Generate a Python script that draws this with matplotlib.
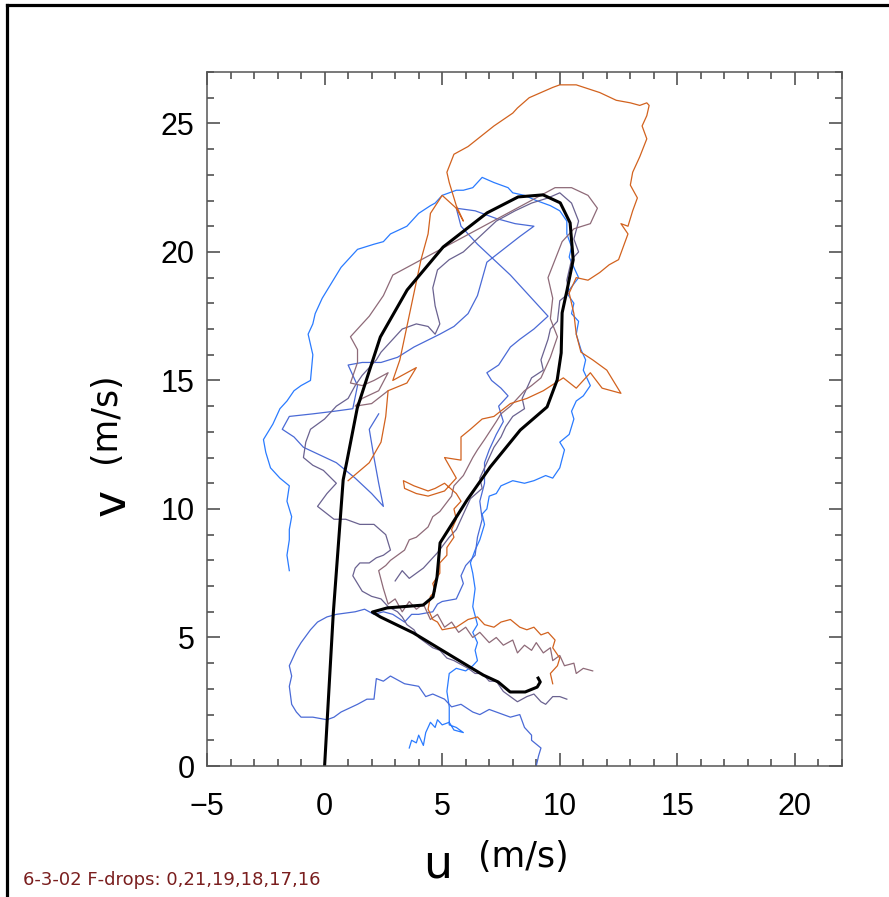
import matplotlib.pyplot as plt
from matplotlib.lines import Line2D
from matplotlib.ticker import MultipleLocator

# hodograph points (u, v) in m/s for each drop
# drop 0 (black, smooth profile)
drop0 = [(0.0, 0.0), (0.37, 5.95), (0.79, 11.13), (0.96, 11.91), (1.39, 13.93), (2.37, 16.69),
         (3.51, 18.52), (5.04, 20.19), (6.91, 21.52), (8.23, 22.14), (9.29, 22.22), (10.02, 21.91),
         (10.44, 21.13), (10.57, 19.69), (10.31, 18.52), (10.10, 17.63), (10.06, 16.07),
         (9.89, 15.02), (9.46, 13.97), (8.32, 13.07), (7.04, 11.63), (6.06, 10.35), (4.91, 8.68),
         (4.78, 7.35), (4.61, 6.58), (4.19, 6.26), (2.66, 6.15), (2.03, 5.99), (2.37, 5.80),
         (3.77, 5.18), (5.47, 4.24), (6.74, 3.54), (7.38, 3.27), (7.89, 2.88), (8.53, 2.88),
         (9.04, 3.07), (9.17, 3.27), (9.08, 3.42)]

# drop 21 (bright blue)
drop21 = [(3.6, 0.7), (3.7, 1.0), (3.9, 0.9), (4.0, 1.2), (4.2, 0.8), (4.3, 1.3), (4.5, 1.7),
          (4.7, 1.5), (4.8, 1.8), (5.0, 1.6), (5.3, 1.7), (5.5, 1.4), (5.9, 1.3), (5.6, 1.5),
          (5.3, 1.6), (5.3, 2.3), (5.2, 2.9), (5.3, 3.6), (5.6, 3.8), (6.0, 3.7), (6.3, 3.9),
          (6.5, 4.1), (6.4, 4.5), (6.5, 4.8), (6.3, 5.2), (6.5, 5.5), (6.3, 6.2), (6.4, 6.9),
          (6.3, 7.5), (6.2, 7.9), (6.4, 8.4), (6.6, 8.8), (6.8, 9.4), (6.7, 9.8), (6.9, 10.0),
          (7.0, 10.5), (7.3, 10.6), (7.5, 10.9), (8.0, 11.1), (8.5, 11.0), (8.9, 11.1), (9.4, 11.3),
          (9.7, 11.2), (10.0, 11.6), (10.2, 12.3), (10.0, 12.6), (10.4, 12.9), (10.6, 13.5),
          (10.5, 13.8), (10.7, 14.2), (11.0, 14.4), (11.3, 14.8), (11.0, 15.4), (11.1, 15.8),
          (10.9, 16.2), (10.7, 16.8), (10.8, 17.3), (10.5, 17.6), (10.6, 18.0), (10.3, 18.4),
          (10.8, 19.0), (10.6, 19.4), (10.4, 19.8), (10.5, 20.2), (10.3, 20.7), (10.3, 21.2),
          (10.0, 21.6), (9.6, 21.8), (9.0, 22.0), (8.5, 22.2), (8.0, 22.3), (7.8, 22.5), (7.2, 22.7),
          (6.7, 22.9), (6.5, 22.7), (6.3, 22.5), (5.9, 22.4), (5.6, 22.4), (5.0, 22.2), (4.7, 21.9),
          (4.5, 21.8), (4.0, 21.5), (3.7, 21.2), (3.5, 21.0), (2.8, 20.7), (2.5, 20.4), (2.1, 20.3),
          (1.4, 20.1), (0.9, 19.6), (0.7, 19.4), (0.5, 19.1), (0.1, 18.5), (-0.1, 18.2), (-0.4, 17.6),
          (-0.5, 17.2), (-0.7, 16.8), (-0.5, 16.0), (-0.6, 15.0), (-0.8, 14.9), (-1.0, 14.8),
          (-1.3, 14.6), (-1.6, 14.2), (-1.9, 13.9), (-2.2, 13.3), (-2.4, 13.0), (-2.6, 12.7),
          (-2.5, 12.2), (-2.3, 11.6), (-1.9, 11.2), (-1.5, 10.9), (-1.6, 10.3), (-1.4, 9.7),
          (-1.5, 9.2), (-1.5, 8.8), (-1.6, 8.2), (-1.5, 7.6)]

# drop 19 (medium blue)
drop19 = [(9.0, 0.0), (9.1, 0.4), (9.2, 0.7), (8.8, 1.0), (8.8, 1.2), (8.5, 1.5), (8.3, 2.0),
          (7.9, 1.9), (7.6, 2.0), (7.0, 2.2), (6.6, 2.0), (6.3, 2.1), (5.8, 2.4), (5.4, 2.3),
          (5.1, 2.6), (4.6, 2.8), (4.3, 2.7), (4.0, 3.1), (3.4, 3.2), (2.8, 3.5), (2.5, 3.3),
          (2.2, 3.4), (2.1, 2.6), (1.8, 2.6), (1.4, 2.4), (0.7, 2.1), (0.4, 1.9), (0.1, 1.8),
          (-0.5, 1.9), (-1.0, 1.9), (-1.2, 2.1), (-1.4, 2.4), (-1.5, 3.1), (-1.4, 3.5), (-1.5, 3.9),
          (-1.2, 4.5), (-1.0, 4.8), (-0.6, 5.3), (-0.3, 5.6), (0.1, 5.8), (0.5, 5.9), (1.3, 6.0),
          (1.7, 6.1), (2.1, 5.9), (2.5, 6.0), (2.9, 5.9), (3.4, 5.6), (3.7, 5.9), (4.0, 5.9),
          (4.6, 6.0), (4.8, 6.3), (5.0, 6.4), (5.6, 6.5), (5.9, 7.1), (5.8, 7.4), (6.0, 7.8),
          (6.4, 8.2), (6.5, 8.9), (6.7, 9.6), (6.6, 10.3), (6.8, 11.0), (6.8, 11.8), (7.0, 12.3),
          (7.3, 12.9), (7.6, 13.4), (7.4, 14.0), (7.8, 14.4), (7.5, 14.7), (7.1, 15.0), (6.9, 15.3),
          (7.4, 15.6), (7.9, 16.3), (8.3, 16.6), (8.9, 17.0), (9.5, 17.5), (9.1, 17.9), (8.6, 18.4),
          (7.9, 19.1), (7.2, 19.7), (6.5, 20.3), (5.8, 21.0), (5.6, 21.7), (6.4, 21.6), (7.3, 21.3),
          (8.1, 21.1), (8.9, 21.0), (8.3, 20.6), (7.6, 20.1), (6.9, 19.6), (6.5, 18.3), (6.1, 17.6),
          (5.5, 17.1), (4.9, 16.8), (3.8, 16.3), (3.1, 15.9), (2.4, 15.7), (1.6, 15.7), (1.0, 15.6),
          (1.4, 14.8), (1.2, 13.9), (0.4, 13.8), (-0.5, 13.7), (-1.5, 13.6), (-1.8, 13.1),
          (-1.3, 12.8), (-0.9, 12.4), (-0.2, 12.1), (0.5, 11.8), (1.3, 11.2), (2.0, 10.6),
          (2.5, 10.1), (2.3, 11.0), (2.1, 12.0), (1.9, 13.1), (2.3, 13.7)]

# drop 18 (slate purple)
drop18 = [(10.3, 2.6), (10.0, 2.7), (9.7, 2.7), (9.4, 2.4), (9.2, 2.5), (8.9, 2.8), (8.6, 2.7),
          (8.2, 2.5), (7.9, 2.7), (7.6, 2.9), (7.3, 3.3), (7.0, 3.3), (6.7, 3.6), (6.4, 3.6),
          (6.1, 3.8), (5.9, 3.9), (5.5, 4.1), (5.2, 4.2), (4.9, 4.5), (4.6, 4.6), (4.3, 4.8),
          (4.0, 5.0), (3.8, 5.3), (3.5, 5.5), (3.3, 5.8), (3.1, 6.0), (2.7, 6.2), (2.4, 6.5),
          (2.0, 6.6), (1.6, 6.8), (1.4, 7.1), (1.2, 7.4), (1.3, 7.7), (1.5, 7.9), (1.9, 7.9),
          (2.2, 8.1), (2.5, 8.2), (2.8, 8.4), (2.7, 8.7), (2.6, 9.0), (2.1, 9.4), (1.5, 9.4),
          (0.9, 9.6), (0.4, 9.6), (-0.3, 10.1), (0.1, 10.6), (0.5, 11.0), (-0.05, 11.5), (-0.5, 11.7),
          (-0.9, 12.0), (-0.8, 12.6), (-0.6, 13.1), (0.0, 13.5), (0.5, 14.0), (1.0, 14.3), (1.3, 14.8),
          (1.6, 15.2), (2.2, 15.8), (2.4, 16.1), (2.9, 16.6), (3.3, 17.0), (3.9, 17.2), (4.4, 17.1),
          (4.7, 16.8), (4.9, 17.2), (4.7, 17.9), (4.6, 18.6), (4.8, 19.3), (5.3, 19.7), (5.9, 20.0),
          (6.6, 20.6), (7.3, 21.2), (8.1, 21.6), (8.8, 21.9), (9.5, 22.1), (10.0, 22.3), (10.5, 21.9),
          (10.8, 21.2), (10.6, 20.5), (10.8, 20.0), (10.5, 19.7), (10.3, 18.9), (10.4, 18.4),
          (10.0, 18.1), (9.9, 17.3), (9.6, 17.0), (9.5, 16.6), (9.2, 15.8), (9.3, 15.4), (8.8, 15.1),
          (8.4, 14.3), (8.5, 13.9), (8.0, 13.6), (7.7, 13.2), (7.5, 12.8), (7.2, 12.4), (7.0, 12.0),
          (6.6, 11.2), (6.7, 10.8), (6.2, 10.4), (5.8, 9.6), (5.6, 9.2), (5.3, 8.9), (4.8, 8.3),
          (4.5, 8.0), (4.2, 7.7), (3.6, 7.3), (3.3, 7.6), (3.0, 7.2)]

# drop 17 (mauve brown)
drop17 = [(11.4, 3.7), (11.0, 3.8), (10.7, 3.6), (10.6, 4.0), (10.2, 3.9), (10.0, 4.3), (9.7, 4.1),
          (9.6, 4.6), (9.3, 4.4), (9.0, 4.8), (8.8, 4.5), (8.5, 4.7), (8.2, 4.4), (8.0, 4.9),
          (7.6, 4.7), (7.3, 5.0), (7.0, 4.8), (6.6, 5.2), (6.3, 5.0), (6.0, 5.4), (5.7, 5.2),
          (5.4, 5.6), (5.1, 5.4), (4.8, 5.9), (4.5, 5.7), (4.2, 6.3), (3.9, 6.1), (3.6, 6.4),
          (3.3, 6.0), (3.0, 6.5), (2.7, 6.3), (2.5, 6.9), (2.3, 7.6), (2.6, 7.8), (2.8, 8.0),
          (3.4, 8.4), (3.6, 8.8), (3.9, 8.9), (4.4, 9.3), (4.6, 9.7), (4.9, 9.9), (5.4, 10.5),
          (5.5, 10.9), (5.9, 11.3), (6.3, 12.0), (6.5, 12.3), (6.8, 12.7), (7.3, 13.4), (7.5, 13.7),
          (7.9, 14.0), (8.5, 14.6), (8.8, 14.8), (9.2, 15.1), (9.6, 15.9), (9.9, 16.7), (9.6, 17.4),
          (9.7, 18.2), (9.5, 19.0), (9.8, 19.7), (10.1, 20.4), (10.6, 20.9), (11.3, 21.1), (11.6, 21.7),
          (11.2, 22.2), (10.5, 22.5), (9.8, 22.5), (2.9, 19.1), (2.5, 18.3), (1.9, 17.5), (1.1, 16.7),
          (1.4, 16.2), (1.4, 15.7), (1.1, 14.9), (1.6, 14.8), (2.1, 15.0), (2.7, 15.3), (2.3, 14.6),
          (1.6, 14.3), (1.3, 14.0), (2.0, 14.1), (2.7, 14.6)]

# drop 16 (orange)
drop16 = [(9.7, 3.2), (9.6, 3.6), (9.9, 3.9), (10.0, 4.2), (9.7, 4.6), (9.8, 4.9), (9.5, 5.2),
          (9.2, 5.1), (8.9, 5.4), (8.6, 5.3), (8.3, 5.4), (7.9, 5.7), (7.5, 5.6), (7.2, 5.4),
          (6.8, 5.5), (6.5, 5.8), (6.1, 5.7), (5.6, 5.4), (5.0, 5.3), (4.8, 5.6), (4.6, 5.7),
          (4.4, 6.1), (4.5, 6.6), (4.7, 6.8), (4.6, 7.1), (4.9, 7.5), (4.9, 7.9), (5.2, 8.2),
          (5.2, 8.5), (5.5, 8.9), (5.4, 9.2), (5.6, 9.6), (5.5, 10.0), (5.8, 10.3), (5.6, 10.6),
          (5.1, 11.0), (4.7, 10.8), (4.4, 10.7), (3.8, 10.9), (3.35, 11.1), (3.4, 10.8), (3.9, 10.6),
          (4.4, 10.5), (5.1, 10.7), (5.6, 11.2), (5.1, 12.0), (5.8, 11.9), (5.8, 12.8), (6.2, 13.1),
          (6.7, 13.5), (7.2, 13.6), (7.9, 14.1), (8.6, 14.3), (9.3, 14.6), (10.15, 15.1), (10.7, 14.7),
          (11.3, 15.3), (11.8, 14.7), (12.6, 14.5), (12.0, 15.4), (11.4, 15.8), (10.9, 16.1),
          (10.7, 16.8), (10.6, 17.6), (10.4, 18.4), (10.7, 19.0), (11.2, 18.9), (11.7, 19.2),
          (12.1, 19.5), (12.5, 19.7), (12.7, 20.2), (12.9, 20.7), (12.6, 21.1), (12.9, 21.0),
          (13.1, 21.6), (13.3, 22.1), (13.0, 22.6), (13.1, 23.1), (13.4, 23.7), (13.7, 24.4),
          (13.5, 24.9), (13.7, 25.3), (13.8, 25.7), (13.7, 25.8), (13.4, 25.7), (13.0, 25.8),
          (12.4, 25.9), (11.7, 26.2), (10.7, 26.5), (10.0, 26.5), (9.7, 26.4), (8.7, 26.0),
          (8.2, 25.6), (8.0, 25.4), (7.2, 24.9), (6.1, 24.1), (5.5, 23.8), (5.2, 23.1), (5.3, 22.7),
          (5.5, 22.1), (5.6, 21.8), (5.9, 21.2), (5.6, 21.7), (5.0, 22.2), (4.5, 21.5), (4.4, 20.7),
          (4.1, 19.7), (3.8, 18.4), (3.5, 17.1), (3.2, 15.8), (2.9, 15.0), (3.3, 15.2), (3.9, 15.5),
          (3.5, 14.9), (2.7, 14.6), (2.6, 13.6), (2.4, 12.6), (1.9, 11.8), (1.0, 11.1)]

drops = [
    (drop21, '#2a7bff'),
    (drop19, '#4a6ad6'),
    (drop18, '#6a6290'),
    (drop17, '#8e6a78'),
    (drop16, '#d2621e'),
]

fig = plt.figure(figsize=(8.89, 8.97), dpi=100)
ax = fig.add_axes([207 / 889, 131 / 897, 635 / 889, 694 / 897])

for pts, c in drops:
    u, v = zip(*pts)
    ax.plot(u, v, color=c, lw=0.9)
u0, v0 = zip(*drop0)
ax.plot(u0, v0, color='black', lw=2.2)

ax.set_xlim(-5, 22)
ax.set_ylim(0, 27)
ax.xaxis.set_major_locator(MultipleLocator(5))
ax.xaxis.set_minor_locator(MultipleLocator(1))
ax.yaxis.set_major_locator(MultipleLocator(5))
ax.yaxis.set_minor_locator(MultipleLocator(1))
ax.tick_params(which='both', direction='in', top=True, right=True, color='#444444', width=1.1)
ax.tick_params(which='major', length=9.5)
ax.tick_params(which='minor', length=5)
ax.tick_params(axis='x', which='major', pad=19)
ax.tick_params(axis='y', which='major', pad=9)
for lab in ax.get_xticklabels() + ax.get_yticklabels():
    lab.set_fontfamily('Liberation Sans')
    lab.set_fontsize(22)
for s in ax.spines.values():
    s.set_color('#555555')
    s.set_linewidth(1.1)

# axis titles
fig.text(438 / 889, 1 - 877 / 897, 'u', fontsize=33, ha='center', va='baseline')
fig.text(478 / 889, 1 - 867 / 897, '(m/s)', fontsize=25, ha='left', va='baseline')
fig.text(125 / 889, 1 - 502 / 897, 'v', fontsize=33, rotation=90, rotation_mode='anchor',
         ha='center', va='baseline')
fig.text(115 / 889, 1 - 418 / 897, '(m/s)', fontsize=25, rotation=90, rotation_mode='anchor',
         ha='center', va='baseline')

fig.text(23 / 889, 1 - 885 / 897, '6-3-02 F-drops: 0,21,19,18,17,16', fontsize=13,
         color='#7a1e1e', ha='left', va='baseline')

# outer frame (top and left edges)
fig.add_artist(Line2D([6.5 / 889, 1], [1 - 5.5 / 897, 1 - 5.5 / 897], color='black', lw=2.3,
                      transform=fig.transFigure))
fig.add_artist(Line2D([6.5 / 889, 6.5 / 889], [0, 1 - 5.5 / 897], color='black', lw=2.3,
                      transform=fig.transFigure))

fig.savefig('out.png', dpi=100)
